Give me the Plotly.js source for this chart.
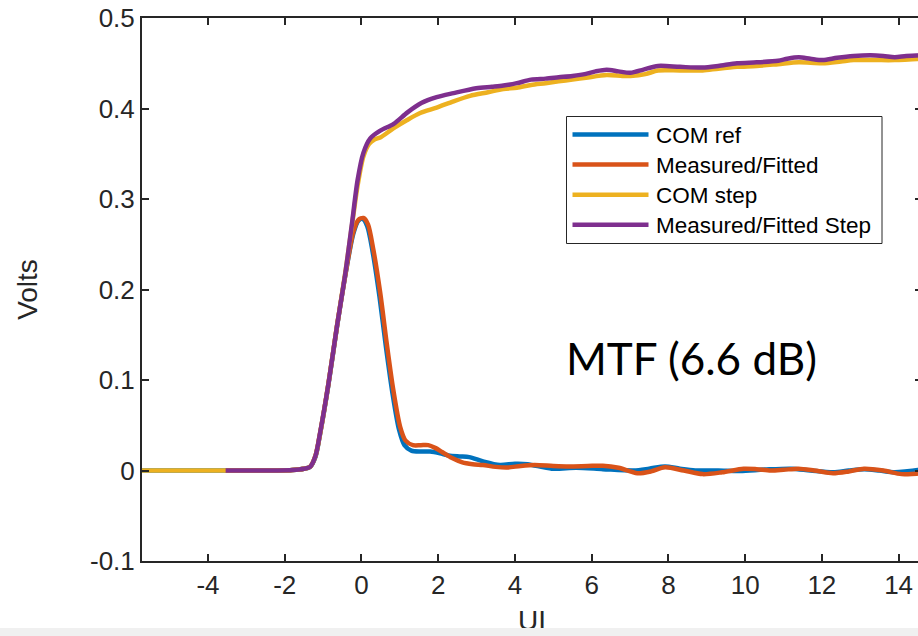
<!DOCTYPE html>
<html>
<head>
<meta charset="utf-8">
<script src="https://cdn.plot.ly/plotly-3.0.1.min.js"></script>
<style>
html, body { margin:0; padding:0; overflow:hidden; background:#fff; width:918px; height:636px; }
#chart { position:absolute; left:0; top:0; width:930px; height:636px; }
#band { position:absolute; left:0; top:628px; width:918px; height:8px; background:#f0f0f0; }
</style>
</head>
<body>
<div id="chart"></div>
<div id="band"></div>
<script>
// ---- Data ----
const seriesNames = ["COM ref", "Measured/Fitted", "COM step", "Measured/Fitted Step"];
const seriesColors = ["#0072BD", "#D95319", "#EDB120", "#7E2F8E"];

const comRefX = [-5.8, -3.0, -2.2, -1.8, -1.5, -1.34, -1.2, -1.08, -0.86, -0.64, -0.42, -0.21, -0.08, 0.03, 0.15, 0.29, 0.47, 0.64, 0.81, 0.98, 1.12, 1.3, 1.55, 1.79, 2.05, 2.27, 2.55, 2.81, 3.17, 3.61, 4.0, 4.33, 4.96, 5.6, 6.29, 7.1, 7.5, 7.91, 8.3, 8.7, 9.3, 9.87, 10.5, 11.2, 11.7, 12.3, 12.7, 13.1, 13.5, 13.9, 14.6];
const comRefY = [0, 0, 0, 0.0005, 0.002, 0.004, 0.015, 0.040, 0.095, 0.158, 0.216, 0.262, 0.276, 0.278, 0.270, 0.242, 0.192, 0.136, 0.085, 0.045, 0.028, 0.022, 0.021, 0.021, 0.019, 0.0166, 0.0155, 0.0148, 0.010, 0.006, 0.0075, 0.007, 0.002, 0.003, 0.0015, 0.0, 0.002, 0.0045, 0.002, 0.0, 0.0, -0.0005, 0.001, 0.002, 0.0, -0.002, 0.0, 0.0015, 0.0, -0.002, 0.001];

const measX = [-3.54, -2.2, -1.8, -1.5, -1.34, -1.2, -1.08, -0.86, -0.64, -0.42, -0.21, -0.08, 0.05, 0.17, 0.31, 0.49, 0.66, 0.83, 1.01, 1.15, 1.34, 1.55, 1.74, 1.92, 2.10, 2.35, 2.63, 2.9, 3.17, 3.5, 3.80, 4.15, 4.51, 5.0, 5.40, 5.9, 6.29, 6.7, 7.19, 7.55, 7.91, 8.4, 8.89, 9.4, 9.96, 10.3, 10.67, 11.0, 11.39, 11.8, 12.29, 12.7, 13.10, 13.6, 14.08, 14.6];
const measY = [0, 0, 0.0005, 0.002, 0.004, 0.016, 0.041, 0.096, 0.159, 0.216, 0.264, 0.277, 0.279, 0.272, 0.244, 0.196, 0.140, 0.089, 0.048, 0.033, 0.028, 0.028, 0.028, 0.025, 0.0205, 0.014, 0.009, 0.007, 0.006, 0.004, 0.0033, 0.005, 0.006, 0.005, 0.0045, 0.005, 0.0053, 0.003, -0.003, -0.001, 0.0035, 0.0, -0.004, -0.002, 0.002, 0.0015, 0.0, 0.0008, 0.002, 0.0, -0.003, -0.001, 0.002, 0.0, -0.004, -0.003];

const comStepX = [-5.8, -3.0, -2.2, -1.8, -1.5, -1.34, -1.2, -1.08, -0.86, -0.64, -0.42, -0.25, -0.10, 0.05, 0.2, 0.35, 0.49, 0.83, 1.18, 1.53, 1.96, 2.40, 2.83, 3.30, 3.70, 4.05, 4.42, 4.8, 5.14, 5.5, 5.85, 6.39, 6.8, 7.01, 7.4, 7.73, 8.3, 8.89, 9.3, 9.79, 10.3, 10.86, 11.40, 12.02, 12.5, 12.83, 13.4, 13.90, 14.6];
const comStepY = [0, 0, 0, 0.0005, 0.002, 0.004, 0.016, 0.040, 0.096, 0.159, 0.219, 0.270, 0.315, 0.347, 0.361, 0.366, 0.368, 0.378, 0.387, 0.395, 0.401, 0.408, 0.414, 0.418, 0.4215, 0.423, 0.426, 0.428, 0.430, 0.432, 0.434, 0.437, 0.436, 0.436, 0.438, 0.442, 0.442, 0.442, 0.444, 0.446, 0.447, 0.449, 0.451, 0.450, 0.452, 0.4535, 0.4535, 0.4535, 0.455];

const measStepX = [-3.54, -2.2, -1.8, -1.5, -1.34, -1.2, -1.08, -0.86, -0.64, -0.42, -0.25, -0.10, 0.05, 0.23, 0.49, 0.84, 1.20, 1.56, 1.96, 2.40, 2.99, 3.4, 3.70, 4.05, 4.42, 4.8, 5.14, 5.5, 5.85, 6.1, 6.39, 6.7, 7.01, 7.35, 7.73, 8.3, 8.89, 9.3, 9.79, 10.3, 10.86, 11.1, 11.40, 11.7, 12.02, 12.4, 12.83, 13.27, 13.6, 13.90, 14.2, 14.6];
const measStepY = [0, 0, 0.0005, 0.002, 0.004, 0.016, 0.041, 0.096, 0.159, 0.218, 0.272, 0.321, 0.351, 0.367, 0.3755, 0.383, 0.3957, 0.406, 0.4125, 0.417, 0.4224, 0.424, 0.4253, 0.428, 0.4319, 0.433, 0.4345, 0.436, 0.4383, 0.441, 0.4429, 0.441, 0.4394, 0.443, 0.447, 0.446, 0.4452, 0.447, 0.450, 0.451, 0.4527, 0.455, 0.4566, 0.455, 0.4535, 0.456, 0.458, 0.4588, 0.458, 0.4566, 0.458, 0.4588];

const xTickVals = [-4, -2, 0, 2, 4, 6, 8, 10, 12, 14];
const xTickText = ["-4", "-2", "0", "2", "4", "6", "8", "10", "12", "14"];
const yTickVals = [-0.1, 0, 0.1, 0.2, 0.3, 0.4, 0.5];
const yTickText = ["-0.1", "0", "0.1", "0.2", "0.3", "0.4", "0.5"];
const annotationText = "MTF (6.6 dB)";

// ---- Build chart ----
const seriesX = [comRefX, measX, comStepX, measStepX];
const seriesY = [comRefY, measY, comStepY, measStepY];
const traces = seriesNames.map((n, i) => ({
  type: "scatter", mode: "lines", name: n,
  x: seriesX[i], y: seriesY[i],
  line: { color: seriesColors[i], width: 4.5, shape: "spline", smoothing: 0.8 },
  showlegend: false, hoverinfo: "skip"
}));

const W = 930, H = 636, ML = 142, MT = 18, MR = 8, MB = 75;
const PW = W - ML - MR, PH = H - MT - MB;
const px2x = p => (p - ML) / PW;
const py2y = p => 1 - (p - MT) / PH;

const axisColor = "#262626";
const fontFam = "Liberation Sans, Arial, Helvetica, sans-serif";

const shapes = [];
const annotations = [];
// Manual legend box (MATLAB style)
shapes.push({ type: "rect", xref: "paper", yref: "paper",
  x0: px2x(566.5), x1: px2x(882), y0: py2y(243.5), y1: py2y(116.5),
  line: { color: axisColor, width: 1 }, fillcolor: "#ffffff", layer: "above" });
const rowY = [134.5, 164.5, 194.7, 224.8];
seriesNames.forEach((n, i) => {
  shapes.push({ type: "line", xref: "paper", yref: "paper",
    x0: px2x(572.5), x1: px2x(648.5), y0: py2y(rowY[i]), y1: py2y(rowY[i]),
    line: { color: seriesColors[i], width: 4.5 }, layer: "above" });
  annotations.push({ xref: "paper", yref: "paper", x: px2x(654), y: py2y(rowY[i] + 0.5),
    xanchor: "left", yanchor: "middle", showarrow: false, text: n,
    font: { family: fontFam, size: 22.5, color: "#000000" } });
});
annotations.push({ xref: "paper", yref: "paper", x: px2x(691), y: py2y(358),
  xanchor: "center", yanchor: "middle", showarrow: false, text: annotationText,
  font: { family: "Lato, Carlito, Noto Sans, sans-serif", size: 44, color: "#000000" } });

const layout = {
  width: W, height: H,
  margin: { l: ML, r: MR, t: MT, b: MB, pad: 0 },
  paper_bgcolor: "#ffffff", plot_bgcolor: "#ffffff",
  showlegend: false,
  font: { family: fontFam, color: axisColor, size: 26 },
  xaxis: {
    range: [-5.72, 14.61], tickmode: "array", tickvals: xTickVals, ticktext: xTickText,
    showgrid: false, zeroline: false, showline: true, mirror: "ticks",
    linecolor: axisColor, linewidth: 2, ticks: "inside", ticklen: 7, tickwidth: 2, tickcolor: axisColor,
    tickfont: { family: fontFam, size: 26, color: axisColor },
    title: { text: "UI", font: { family: fontFam, size: 28, color: axisColor }, standoff: 14 }
  },
  yaxis: {
    range: [-0.1, 0.5], tickmode: "array", tickvals: yTickVals, ticktext: yTickText,
    showgrid: false, zeroline: false, showline: true, mirror: "ticks",
    linecolor: axisColor, linewidth: 2, ticks: "inside", ticklen: 7, tickwidth: 2, tickcolor: axisColor,
    tickfont: { family: fontFam, size: 26, color: axisColor },
    title: { text: "Volts", font: { family: fontFam, size: 28, color: axisColor }, standoff: 44 }
  },
  shapes: shapes,
  annotations: annotations
};

Plotly.newPlot("chart", traces, layout, { staticPlot: true, displayModeBar: false });
</script>
</body>
</html>
